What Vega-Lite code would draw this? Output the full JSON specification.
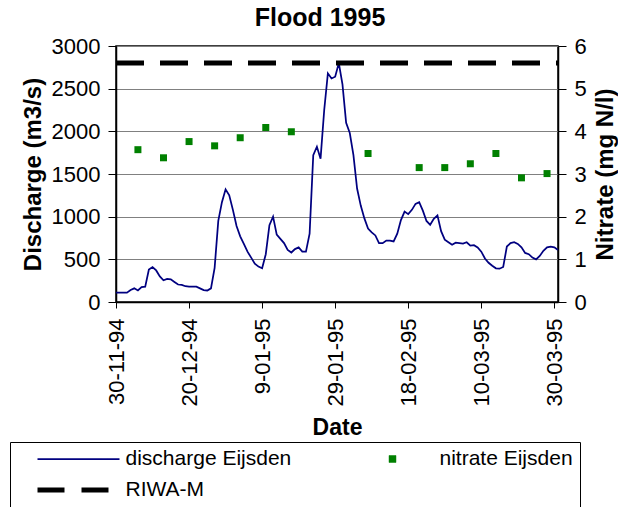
{
  "$schema": "https://vega.github.io/schema/vega-lite/v6.json",
  "width": 442,
  "height": 256,
  "autosize": "none",
  "padding": {"left": 116, "top": 46, "right": 60, "bottom": 205},
  "background": "white",
  "title": {"text": "Flood 1995", "fontSize": 25, "fontWeight": "bold", "font": "Liberation Sans", "color": "black", "anchor": "middle", "frame": "group", "offset": 4, "dx": -17},
  "datasets": {
    "discharge": [
      {"d": "1994-11-30", "q": 110, "series": "discharge Eijsden"},
      {"d": "1994-12-01", "q": 110, "series": "discharge Eijsden"},
      {"d": "1994-12-02", "q": 110, "series": "discharge Eijsden"},
      {"d": "1994-12-03", "q": 110, "series": "discharge Eijsden"},
      {"d": "1994-12-04", "q": 140, "series": "discharge Eijsden"},
      {"d": "1994-12-05", "q": 160, "series": "discharge Eijsden"},
      {"d": "1994-12-06", "q": 135, "series": "discharge Eijsden"},
      {"d": "1994-12-07", "q": 175, "series": "discharge Eijsden"},
      {"d": "1994-12-08", "q": 180, "series": "discharge Eijsden"},
      {"d": "1994-12-09", "q": 380, "series": "discharge Eijsden"},
      {"d": "1994-12-10", "q": 410, "series": "discharge Eijsden"},
      {"d": "1994-12-11", "q": 370, "series": "discharge Eijsden"},
      {"d": "1994-12-12", "q": 300, "series": "discharge Eijsden"},
      {"d": "1994-12-13", "q": 255, "series": "discharge Eijsden"},
      {"d": "1994-12-14", "q": 270, "series": "discharge Eijsden"},
      {"d": "1994-12-15", "q": 265, "series": "discharge Eijsden"},
      {"d": "1994-12-16", "q": 235, "series": "discharge Eijsden"},
      {"d": "1994-12-17", "q": 205, "series": "discharge Eijsden"},
      {"d": "1994-12-18", "q": 200, "series": "discharge Eijsden"},
      {"d": "1994-12-19", "q": 185, "series": "discharge Eijsden"},
      {"d": "1994-12-20", "q": 180, "series": "discharge Eijsden"},
      {"d": "1994-12-21", "q": 180, "series": "discharge Eijsden"},
      {"d": "1994-12-22", "q": 180, "series": "discharge Eijsden"},
      {"d": "1994-12-23", "q": 160, "series": "discharge Eijsden"},
      {"d": "1994-12-24", "q": 140, "series": "discharge Eijsden"},
      {"d": "1994-12-25", "q": 135, "series": "discharge Eijsden"},
      {"d": "1994-12-26", "q": 160, "series": "discharge Eijsden"},
      {"d": "1994-12-27", "q": 400, "series": "discharge Eijsden"},
      {"d": "1994-12-28", "q": 950, "series": "discharge Eijsden"},
      {"d": "1994-12-29", "q": 1170, "series": "discharge Eijsden"},
      {"d": "1994-12-30", "q": 1320, "series": "discharge Eijsden"},
      {"d": "1994-12-31", "q": 1250, "series": "discharge Eijsden"},
      {"d": "1995-01-01", "q": 1080, "series": "discharge Eijsden"},
      {"d": "1995-01-02", "q": 890, "series": "discharge Eijsden"},
      {"d": "1995-01-03", "q": 770, "series": "discharge Eijsden"},
      {"d": "1995-01-04", "q": 680, "series": "discharge Eijsden"},
      {"d": "1995-01-05", "q": 590, "series": "discharge Eijsden"},
      {"d": "1995-01-06", "q": 520, "series": "discharge Eijsden"},
      {"d": "1995-01-07", "q": 450, "series": "discharge Eijsden"},
      {"d": "1995-01-08", "q": 415, "series": "discharge Eijsden"},
      {"d": "1995-01-09", "q": 395, "series": "discharge Eijsden"},
      {"d": "1995-01-10", "q": 560, "series": "discharge Eijsden"},
      {"d": "1995-01-11", "q": 900, "series": "discharge Eijsden"},
      {"d": "1995-01-12", "q": 1000, "series": "discharge Eijsden"},
      {"d": "1995-01-13", "q": 790, "series": "discharge Eijsden"},
      {"d": "1995-01-14", "q": 740, "series": "discharge Eijsden"},
      {"d": "1995-01-15", "q": 690, "series": "discharge Eijsden"},
      {"d": "1995-01-16", "q": 610, "series": "discharge Eijsden"},
      {"d": "1995-01-17", "q": 580, "series": "discharge Eijsden"},
      {"d": "1995-01-18", "q": 620, "series": "discharge Eijsden"},
      {"d": "1995-01-19", "q": 640, "series": "discharge Eijsden"},
      {"d": "1995-01-20", "q": 590, "series": "discharge Eijsden"},
      {"d": "1995-01-21", "q": 590, "series": "discharge Eijsden"},
      {"d": "1995-01-22", "q": 800, "series": "discharge Eijsden"},
      {"d": "1995-01-23", "q": 1720, "series": "discharge Eijsden"},
      {"d": "1995-01-24", "q": 1820, "series": "discharge Eijsden"},
      {"d": "1995-01-25", "q": 1680, "series": "discharge Eijsden"},
      {"d": "1995-01-26", "q": 2250, "series": "discharge Eijsden"},
      {"d": "1995-01-27", "q": 2680, "series": "discharge Eijsden"},
      {"d": "1995-01-28", "q": 2620, "series": "discharge Eijsden"},
      {"d": "1995-01-29", "q": 2640, "series": "discharge Eijsden"},
      {"d": "1995-01-30", "q": 2800, "series": "discharge Eijsden"},
      {"d": "1995-01-31", "q": 2550, "series": "discharge Eijsden"},
      {"d": "1995-02-01", "q": 2100, "series": "discharge Eijsden"},
      {"d": "1995-02-02", "q": 1980, "series": "discharge Eijsden"},
      {"d": "1995-02-03", "q": 1720, "series": "discharge Eijsden"},
      {"d": "1995-02-04", "q": 1330, "series": "discharge Eijsden"},
      {"d": "1995-02-05", "q": 1130, "series": "discharge Eijsden"},
      {"d": "1995-02-06", "q": 980, "series": "discharge Eijsden"},
      {"d": "1995-02-07", "q": 860, "series": "discharge Eijsden"},
      {"d": "1995-02-08", "q": 815, "series": "discharge Eijsden"},
      {"d": "1995-02-09", "q": 780, "series": "discharge Eijsden"},
      {"d": "1995-02-10", "q": 690, "series": "discharge Eijsden"},
      {"d": "1995-02-11", "q": 690, "series": "discharge Eijsden"},
      {"d": "1995-02-12", "q": 720, "series": "discharge Eijsden"},
      {"d": "1995-02-13", "q": 720, "series": "discharge Eijsden"},
      {"d": "1995-02-14", "q": 710, "series": "discharge Eijsden"},
      {"d": "1995-02-15", "q": 800, "series": "discharge Eijsden"},
      {"d": "1995-02-16", "q": 960, "series": "discharge Eijsden"},
      {"d": "1995-02-17", "q": 1060, "series": "discharge Eijsden"},
      {"d": "1995-02-18", "q": 1030, "series": "discharge Eijsden"},
      {"d": "1995-02-19", "q": 1080, "series": "discharge Eijsden"},
      {"d": "1995-02-20", "q": 1150, "series": "discharge Eijsden"},
      {"d": "1995-02-21", "q": 1170, "series": "discharge Eijsden"},
      {"d": "1995-02-22", "q": 1070, "series": "discharge Eijsden"},
      {"d": "1995-02-23", "q": 950, "series": "discharge Eijsden"},
      {"d": "1995-02-24", "q": 905, "series": "discharge Eijsden"},
      {"d": "1995-02-25", "q": 975, "series": "discharge Eijsden"},
      {"d": "1995-02-26", "q": 1015, "series": "discharge Eijsden"},
      {"d": "1995-02-27", "q": 830, "series": "discharge Eijsden"},
      {"d": "1995-02-28", "q": 730, "series": "discharge Eijsden"},
      {"d": "1995-03-01", "q": 700, "series": "discharge Eijsden"},
      {"d": "1995-03-02", "q": 670, "series": "discharge Eijsden"},
      {"d": "1995-03-03", "q": 695, "series": "discharge Eijsden"},
      {"d": "1995-03-04", "q": 690, "series": "discharge Eijsden"},
      {"d": "1995-03-05", "q": 685, "series": "discharge Eijsden"},
      {"d": "1995-03-06", "q": 700, "series": "discharge Eijsden"},
      {"d": "1995-03-07", "q": 660, "series": "discharge Eijsden"},
      {"d": "1995-03-08", "q": 665, "series": "discharge Eijsden"},
      {"d": "1995-03-09", "q": 640, "series": "discharge Eijsden"},
      {"d": "1995-03-10", "q": 590, "series": "discharge Eijsden"},
      {"d": "1995-03-11", "q": 510, "series": "discharge Eijsden"},
      {"d": "1995-03-12", "q": 460, "series": "discharge Eijsden"},
      {"d": "1995-03-13", "q": 425, "series": "discharge Eijsden"},
      {"d": "1995-03-14", "q": 395, "series": "discharge Eijsden"},
      {"d": "1995-03-15", "q": 390, "series": "discharge Eijsden"},
      {"d": "1995-03-16", "q": 410, "series": "discharge Eijsden"},
      {"d": "1995-03-17", "q": 650, "series": "discharge Eijsden"},
      {"d": "1995-03-18", "q": 690, "series": "discharge Eijsden"},
      {"d": "1995-03-19", "q": 700, "series": "discharge Eijsden"},
      {"d": "1995-03-20", "q": 680, "series": "discharge Eijsden"},
      {"d": "1995-03-21", "q": 640, "series": "discharge Eijsden"},
      {"d": "1995-03-22", "q": 575, "series": "discharge Eijsden"},
      {"d": "1995-03-23", "q": 560, "series": "discharge Eijsden"},
      {"d": "1995-03-24", "q": 520, "series": "discharge Eijsden"},
      {"d": "1995-03-25", "q": 500, "series": "discharge Eijsden"},
      {"d": "1995-03-26", "q": 540, "series": "discharge Eijsden"},
      {"d": "1995-03-27", "q": 600, "series": "discharge Eijsden"},
      {"d": "1995-03-28", "q": 640, "series": "discharge Eijsden"},
      {"d": "1995-03-29", "q": 650, "series": "discharge Eijsden"},
      {"d": "1995-03-30", "q": 640, "series": "discharge Eijsden"},
      {"d": "1995-03-31", "q": 610, "series": "discharge Eijsden"}
    ],
    "nitrate": [
      {"d": "1994-12-06", "n": 3.57, "series": "nitrate Eijsden"},
      {"d": "1994-12-13", "n": 3.38, "series": "nitrate Eijsden"},
      {"d": "1994-12-20", "n": 3.76, "series": "nitrate Eijsden"},
      {"d": "1994-12-27", "n": 3.66, "series": "nitrate Eijsden"},
      {"d": "1995-01-03", "n": 3.85, "series": "nitrate Eijsden"},
      {"d": "1995-01-10", "n": 4.09, "series": "nitrate Eijsden"},
      {"d": "1995-01-17", "n": 3.99, "series": "nitrate Eijsden"},
      {"d": "1995-02-07", "n": 3.48, "series": "nitrate Eijsden"},
      {"d": "1995-02-21", "n": 3.15, "series": "nitrate Eijsden"},
      {"d": "1995-02-28", "n": 3.15, "series": "nitrate Eijsden"},
      {"d": "1995-03-07", "n": 3.24, "series": "nitrate Eijsden"},
      {"d": "1995-03-14", "n": 3.48, "series": "nitrate Eijsden"},
      {"d": "1995-03-21", "n": 2.91, "series": "nitrate Eijsden"},
      {"d": "1995-03-28", "n": 3.01, "series": "nitrate Eijsden"}
    ],
    "riwa": [
      {"d": "1994-11-30", "n": 5.6, "series": "RIWA-M"},
      {"d": "1995-03-31", "n": 5.6, "series": "RIWA-M"}
    ]
  },
  "layer": [
    {
      "data": {"name": "discharge"},
      "mark": {"type": "line", "strokeWidth": 1.75},
      "encoding": {
        "x": {
          "field": "d", "type": "temporal",
          "scale": {"type": "utc", "domain": [786153600000, 796608000000]},
          "axis": {
            "title": "Date",
            "values": [786153600000, 787881600000, 789609600000, 791337600000, 793065600000, 794793600000, 796521600000],
            "format": "%-d-%m-%y",
            "labelAngle": -90,
            "tickSize": 6,
            "labelPadding": 10,
            "titleFontSize": 23,
            "titlePadding": 10,
            "grid": false
          }
        },
        "y": {
          "field": "q", "type": "quantitative",
          "scale": {"domain": [0, 3000], "nice": false},
          "axis": {
            "orient": "left",
            "title": "Discharge (m3/s)",
            "values": [0, 500, 1000, 1500, 2000, 2500, 3000],
            "format": "d",
            "tickSize": 8,
            "labelPadding": 8,
            "grid": true,
            "gridColor": "#808080",
            "gridWidth": 1,
            "titleFontSize": 24,
            "titlePadding": 6
          }
        },
        "color": {
          "field": "series", "type": "nominal",
          "scale": {"domain": ["discharge Eijsden", "nitrate Eijsden", "RIWA-M"], "range": ["#000080", "#008000", "#000000"]},
          "legend": {
            "title": null,
            "values": ["discharge Eijsden", "nitrate Eijsden", "RIWA-M"],
            "direction": "horizontal",
            "symbolType": "stroke",
            "symbolSize": 6724,
            "encode": {
              "symbols": {
                "update": {
                  "shape": {"signal": "(datum.value == 'nitrate Eijsden' ? 'M-0.085,-0.085H0.085V0.085H-0.085Z' : 'stroke')"},
                  "strokeDash": {"signal": "(datum.value == 'RIWA-M' ? [27, 17] : [1, 0])"},
                  "strokeWidth": {"signal": "(datum.value == 'RIWA-M' ? 5 : (datum.value == 'nitrate Eijsden' ? 0.5 : 1.75))"},
                  "stroke": {"scale": "color", "field": "value"},
                  "fill": {"scale": "color", "field": "value"},
                  "opacity": {"value": 1}
                }
              }
            }
          }
        }
      }
    },
    {
      "layer": [
        {
          "data": {"name": "riwa"},
          "mark": {"type": "line", "strokeCap": "butt", "strokeWidth": 5, "strokeDash": [28, 16]},
          "encoding": {
            "x": {"field": "d", "type": "temporal"},
            "y": {
              "field": "n", "type": "quantitative",
              "scale": {"domain": [0, 6], "nice": false},
              "axis": {
                "orient": "right",
                "title": "Nitrate (mg N/l)",
                "values": [0, 1, 2, 3, 4, 5, 6],
                "tickSize": 8,
                "labelPadding": 8,
                "grid": false,
                "titleAngle": 270,
                "titleBaseline": "top",
                "titleFontSize": 24,
                "titlePadding": 7
              }
            },
            "color": {"field": "series", "type": "nominal"}
          }
        },
        {
          "data": {"name": "nitrate"},
          "mark": {"type": "point", "filled": true, "opacity": 1, "shape": "square", "size": 49},
          "encoding": {
            "x": {"field": "d", "type": "temporal"},
            "y": {"field": "n", "type": "quantitative"},
            "color": {"field": "series", "type": "nominal"}
          }
        }
      ]
    }
  ],
  "resolve": {"scale": {"y": "independent"}},
  "config": {
    "font": "Liberation Sans",
    "view": {"stroke": "black", "strokeWidth": 1.5},
    "axis": {
      "domainColor": "black", "domainWidth": 1.5,
      "tickColor": "black", "tickWidth": 1,
      "labelColor": "black", "labelFont": "Liberation Sans", "labelFontSize": 22,
      "titleColor": "black", "titleFont": "Liberation Sans", "titleFontWeight": "bold"
    },
    "legend": {
      "orient": "none", "legendX": -106, "legendY": 396,
      "columns": 2, "strokeColor": "black", "padding": 7,
      "clipHeight": 20, "rowPadding": 10, "columnPadding": 39,
      "labelFont": "Liberation Sans", "labelFontSize": 21, "labelColor": "black",
      "labelLimit": 400, "labelOffset": 5, "symbolOffset": 19.5
    }
  }
}
